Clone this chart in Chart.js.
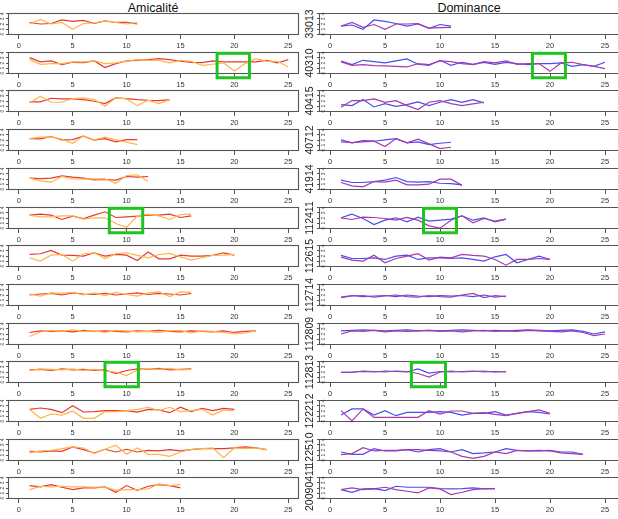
<!DOCTYPE html>
<html>
<head>
<meta charset="utf-8">
<script src="https://cdn.jsdelivr.net/npm/chart.js@4.4.1/dist/chart.umd.min.js"></script>
<style>
  body { margin: 0; background: #fff; }
  #page { position: relative; width: 618px; height: 519px; overflow: hidden; font-family: "Liberation Sans", Arial, sans-serif; }
  #page canvas { position: absolute; }
  .title { position: absolute; top: 1px; font-size: 12.5px; line-height: 14px; color: #111; transform: translateX(-50%); white-space: nowrap; }
  .pid { position: absolute; font-size: 10.5px; line-height: 11px; color: #222; transform: translate(-50%, -50%) rotate(-90deg); white-space: nowrap; }
</style>
</head>
<body>
<div id="page">
  <div class="title" style="left:153px">Amicalité</div>
  <div class="title" style="left:469px">Dominance</div>
</div>
<script>
const participants = ['33013', '40310', '40415', '40712', '41914', '112411', '112615',
  '112714', '112809', '112813', '122212', '122510', '20090411'];
const xTicks = [0, 5, 10, 15, 20, 25];
const yTicks = [0, 1, 2, 3, 4];

// Amicalité, first rater (red) and second rater (orange), one row per participant
const amicaliteRed = [
  [2.3, 2.0, 2.1, 2.8, 2.5, 2.7, 2.1, 2.6, 2.3, 2.3, 2.0],
  [3.06, 2.21, 2.4, 1.68, 2.14, 2.07, 2.4, 1.09, 1.88, 2.4, 2.53, 2.67, 2.86, 2.67, 2.34, 2.14, 2.07, 2.4, 2.21, 2.21, 2.21, 2.21, 2.53, 2.01, 2.67],
  [1.82, 1.82, 2.54, 2.41, 2.41, 2.28, 1.95, 1.49, 2.61, 2.48, 2.28, 2.15, 2.08, 2.28],
  [2.28, 2.22, 2.68, 2.02, 2.09, 2.75, 1.96, 2.28, 1.63, 2.09, 2.09],
  [2.16, 2.09, 2.16, 2.62, 2.36, 2.16, 1.83, 1.9, 1.77, 2.49, 2.36, 2.49],
  [2.56, 2.76, 2.56, 1.71, 2.36, 1.9, 2.56, 3.22, 2.1, 2.23, 2.36, 2.56, 2.56, 2.76, 2.1, 2.43],
  [2.3, 2.44, 3.09, 2.17, 2.11, 1.98, 2.63, 1.98, 2.3, 2.17, 1.12, 2.77, 1.45, 1.45, 2.17, 1.98, 1.98, 2.11, 2.63, 2.17],
  [2.0, 2.2, 2.3, 2.0, 2.4, 2.2, 2.1, 2.3, 2.0, 2.2, 2.4, 2.1, 2.3, 2.2, 2.0, 2.3],
  [2.3, 2.6, 2.5, 2.6, 2.4, 2.7, 2.5, 2.6, 2.5, 2.4, 2.6, 2.5, 2.7, 2.5, 2.4, 2.6, 2.5, 2.4, 2.6, 2.3, 2.5, 2.6],
  [2.4, 2.5, 2.3, 2.6, 2.4, 2.5, 2.3, 2.4, 1.7, 2.3, 2.6, 2.5, 2.7, 2.4, 2.5, 2.6],
  [2.33, 2.59, 2.33, 1.67, 3.05, 1.8, 1.87, 2.07, 2.07, 2.07, 1.8, 2.33, 2.2, 1.67, 2.73, 1.87, 2.53, 2.07, 2.53, 2.33],
  [1.75, 1.61, 1.81, 1.75, 2.6, 2.07, 1.42, 2.14, 1.61, 2.14, 1.61, 1.94, 1.81, 2.07, 1.81, 2.07, 2.27, 2.27, 2.27, 2.4, 2.6, 2.4, 2.07],
  [2.48, 2.21, 2.67, 2.15, 1.69, 2.02, 2.02, 2.21, 1.16, 2.48, 1.55, 2.34, 2.67, 2.48, 2.02]
];
const amicaliteOrange = [
  [2.0, 2.9, 2.0, 2.3, 0.95, 2.1, 2.2, 2.6, 2.3, 2.0, 2.3],
  [2.67, 1.75, 1.88, 1.88, 2.21, 2.21, 2.4, 1.88, 2.01, 2.34, 2.67, 2.53, 2.53, 2.01, 2.53, 2.34, 1.55, 1.75, 2.01, 0.43, 1.88, 2.86, 2.34, 2.34, 1.22],
  [1.62, 2.94, 1.75, 1.75, 2.48, 2.61, 2.28, 0.96, 2.61, 2.41, 1.09, 2.15, 1.49, 2.28],
  [2.28, 2.55, 2.61, 2.15, 1.36, 2.81, 2.02, 2.55, 2.02, 1.56, 1.1],
  [2.16, 1.63, 1.37, 2.49, 2.03, 1.96, 2.03, 2.03, 1.17, 2.69, 2.82, 1.5],
  [2.56, 2.23, 2.23, 2.43, 2.43, 1.77, 2.04, 2.04, 0.92, 0.19, 2.43, 2.76, 2.43, 1.71, 2.69, 2.76],
  [1.65, 0.99, 2.17, 2.3, 0.99, 2.44, 2.63, 1.51, 2.44, 2.63, 2.11, 1.65, 2.3, 2.5, 1.84, 1.19, 1.65, 2.11, 2.17, 2.3],
  [2.2, 1.8, 2.4, 2.3, 2.5, 2.0, 2.4, 1.9, 2.5, 2.1, 1.8, 2.4, 2.6, 1.7, 2.6, 2.5],
  [1.5, 2.4, 2.7, 2.5, 2.8, 2.5, 2.6, 2.3, 2.7, 2.6, 2.4, 2.5, 2.3, 2.6, 2.7, 2.2, 2.6, 2.5, 2.3, 2.0, 2.2, 2.6],
  [2.3, 2.6, 2.5, 2.4, 2.6, 2.3, 2.5, 2.2, 2.0, 1.3, 2.4, 2.6, 2.5, 2.7, 2.4, 2.5],
  [2.33, 0.56, 1.41, 1.21, 2.0, 0.56, 0.56, 1.87, 1.87, 2.07, 2.33, 2.73, 2.07, 2.73, 1.87, 2.07, 2.33, 1.21, 2.2, 2.0],
  [1.42, 1.81, 1.94, 2.27, 2.6, 2.4, 1.29, 2.14, 2.93, 1.15, 2.4, 1.15, 1.15, 0.76, 1.61, 2.14, 2.27, 2.4, 0.5, 2.4, 2.27, 2.4, 2.07],
  [1.69, 2.34, 2.21, 2.34, 2.21, 2.21, 2.15, 2.21, 1.55, 1.69, 1.69, 1.82, 2.8, 2.48, 2.67]
];

// Dominance, first rater (blue) and second rater (purple)
const dominanceBlue = [
  [1.6, 1.8, 0.95, 2.8, 2.5, 2.1, 1.6, 2.0, 1.15, 1.9, 1.6],
  [2.4, 1.68, 2.53, 2.27, 2.01, 2.4, 2.8, 1.75, 1.55, 2.53, 1.55, 2.14, 1.75, 2.14, 1.75, 2.14, 1.88, 1.68, 1.88, 1.88, 2.01, 1.35, 1.68, 1.35, 2.14],
  [1.29, 1.09, 2.28, 0.83, 1.49, 0.96, 1.29, 1.82, 1.09, 1.75, 2.28, 1.75, 2.28, 1.62],
  [2.02, 1.43, 1.89, 1.76, 2.02, 2.28, 1.43, 1.63, 1.1, 1.36, 1.56],
  [1.77, 1.31, 1.31, 1.5, 1.77, 2.29, 1.5, 1.37, 1.5, 1.17, 1.11, 0.84],
  [2.04, 2.76, 1.9, 0.72, 1.57, 2.04, 1.25, 2.17, 1.38, 1.57, 1.77, 2.43, 1.57, 2.04, 1.25, 1.77],
  [2.11, 1.51, 1.51, 1.65, 1.32, 1.98, 2.17, 1.32, 1.65, 1.65, 1.51, 1.65, 1.32, 0.99, 1.84, 2.3, 0.66, 1.32, 1.98, 1.32],
  [1.6, 1.9, 1.7, 1.8, 1.9, 1.7, 2.0, 1.8, 1.7, 1.9, 1.8, 1.9, 1.7, 2.0, 1.6, 1.8],
  [2.6, 2.7, 2.8, 2.7, 2.6, 2.7, 2.8, 2.6, 2.7, 2.6, 2.7, 2.8, 2.7, 2.6, 2.7, 2.6, 2.7, 2.8, 2.7, 2.6, 2.7, 2.8, 2.5, 2.0, 2.4],
  [1.9, 2.0, 2.1, 2.0, 2.2, 2.1, 2.0, 2.6, 1.8, 2.1, 2.0, 2.1, 2.2, 2.0, 2.1, 2.0],
  [1.21, 2.4, 2.4, 1.21, 2.07, 1.08, 1.74, 1.74, 1.74, 1.87, 1.74, 1.21, 1.54, 1.54, 1.87, 1.21, 1.54, 1.87, 1.74, 1.41],
  [1.61, 1.15, 1.15, 2.27, 1.81, 1.81, 2.07, 1.61, 2.07, 2.27, 1.61, 2.07, 1.29, 1.42, 1.61, 2.27, 1.94, 1.81, 1.81, 1.94, 1.61, 1.61, 1.15],
  [1.69, 1.16, 1.82, 1.88, 1.49, 2.34, 2.15, 2.15, 2.15, 1.88, 1.82, 1.88, 2.02, 1.82, 1.88]
];
const dominancePurple = [
  [1.6, 2.3, 1.35, 1.9, 0.95, 2.0, 2.0, 2.1, 1.2, 1.3, 1.35],
  [2.21, 1.55, 1.68, 1.48, 1.42, 1.35, 1.22, 1.88, 1.68, 2.4, 2.27, 1.88, 1.68, 2.27, 2.01, 2.4, 1.75, 1.88, 1.88, 0.36, 2.01, 2.14, 1.68, 1.35, 0.89],
  [0.77, 2.08, 2.08, 2.41, 1.75, 2.08, 1.09, 0.31, 1.75, 2.08, 1.49, 1.09, 1.42, 1.75],
  [1.63, 1.5, 1.63, 1.76, 0.71, 2.28, 1.43, 2.15, 1.23, 0.31, 0.58],
  [1.31, 0.65, 0.45, 1.5, 1.37, 1.77, 0.84, 0.84, 0.98, 1.96, 1.96, 0.75],
  [2.04, 1.71, 2.17, 2.1, 1.9, 1.57, 2.1, 1.57, 0.46, 0.0, 1.57, 2.43, 1.05, 1.9, 1.38, 1.77],
  [1.78, 1.19, 0.99, 2.17, 0.66, 1.51, 1.98, 2.44, 1.19, 1.78, 1.65, 2.3, 2.11, 1.98, 1.32, 0.2, 1.32, 1.32, 1.51, 1.32],
  [1.5, 1.8, 1.9, 1.6, 1.8, 2.0, 1.7, 1.6, 1.9, 1.7, 1.6, 2.0, 2.3, 1.5, 1.9, 1.7],
  [2.0, 2.6, 2.5, 2.7, 2.4, 2.6, 2.5, 2.6, 2.7, 2.5, 2.6, 2.4, 2.6, 2.7, 2.5, 2.6, 2.5, 2.7, 2.6, 2.5, 2.4, 2.6, 2.3, 1.7, 2.0],
  [2.0, 1.9, 2.2, 2.1, 2.0, 2.2, 2.1, 1.7, 1.0, 2.0, 2.2, 2.0, 2.1, 2.2, 2.0, 2.1],
  [2.07, 0.05, 2.4, 0.75, 0.75, 0.75, 0.75, 0.75, 2.07, 1.41, 2.0, 2.0, 1.54, 1.67, 1.34, 1.08, 1.54, 1.87, 2.2, 1.54],
  [1.09, 1.29, 2.47, 1.81, 1.94, 1.94, 2.07, 2.07, 1.94, 1.81, 1.61, 0.76, 0.36, 0.76, 1.61, 1.29, 1.94, 1.81, 1.94, 1.81, 1.42, 1.29, 1.15],
  [1.69, 2.02, 1.69, 1.82, 2.15, 1.69, 1.36, 1.03, 2.02, 1.82, 0.7, 1.16, 1.69, 1.88, 1.88]
];

// highlighted disagreements (green boxes), in data units
const highlightRows = [1, 5, 9];
const highlightAmicX = [[18.4, 21.4], [8.4, 11.5], [8.0, 11.1]];
const highlightDomX = [[18.4, 21.4], [8.5, 11.5], [7.4, 10.5]];
const highlightY = [-0.9, 3.9];

const FONT = '"Liberation Sans", Arial, sans-serif';
const ROW0 = 13, ROWSTEP = 38.7, BOXH = 22, PADTOP = 4, XAXIS_H = 17;
const page = document.getElementById('page');

const toPoints = vals => vals.map((v, i) => ({ x: i + 1, y: v }));

const frame = {
  id: 'frame',
  afterDraw(chart, args, opts) {
    const { ctx, chartArea: a } = chart;
    const x = chart.scales.x, y = chart.scales.y;
    ctx.save();
    ctx.strokeStyle = '#555';
    ctx.lineWidth = 1.1;
    if (opts.inside) {
      // right column: the frame runs off the edge of the figure
      const l = a.left + 0.5, t = a.top + 0.5, b = a.bottom - 0.5;
      ctx.beginPath();
      ctx.moveTo(chart.width, t); ctx.lineTo(l, t); ctx.lineTo(l, b); ctx.lineTo(chart.width, b);
      ctx.stroke();
    } else {
      ctx.strokeRect(a.left + 0.5, a.top + 0.5, a.right - a.left - 1, a.bottom - a.top - 1);
    }

    ctx.fillStyle = '#444';
    ctx.font = '5px ' + FONT;
    ctx.textAlign = 'center';
    ctx.textBaseline = 'middle';
    const lx = opts.inside ? a.left + 4.5 : a.left - 5;
    yTicks.forEach(v => {
      ctx.save();
      ctx.translate(lx, y.getPixelForValue(v));
      ctx.rotate(-Math.PI / 2);
      ctx.fillText(String(v), 0, 0);
      ctx.restore();
    });

    if (opts.box) {
      const x0 = x.getPixelForValue(opts.box[0]), x1 = x.getPixelForValue(opts.box[1]);
      const y0 = y.getPixelForValue(highlightY[1]), y1 = y.getPixelForValue(highlightY[0]);
      ctx.strokeStyle = '#1fc41f';
      ctx.lineWidth = 3;
      ctx.strokeRect(x0, y0, x1 - x0, y1 - y0);
    }
    ctx.restore();
  }
};

function makePanel(k, left) {
  const boxTop = Math.round(ROW0 + ROWSTEP * k);
  const cv = document.createElement('canvas');
  const w = 302;
  const h = PADTOP + BOXH + XAXIS_H;
  cv.width = w; cv.height = h;
  cv.style.width = w + 'px'; cv.style.height = h + 'px';
  cv.style.left = (left ? 0 : 316) + 'px';
  cv.style.top = (boxTop - PADTOP) + 'px';
  page.appendChild(cv);

  const hi = highlightRows.indexOf(k);
  const box = hi < 0 ? null : (left ? highlightAmicX[hi] : highlightDomX[hi]);
  const top = left ? amicaliteOrange[k] : dominancePurple[k];
  const under = left ? amicaliteRed[k] : dominanceBlue[k];
  const cTop = left ? '#ffb448' : '#a83aa8';
  const cUnder = left ? '#e6392f' : '#4b4bf5';
  const yW = left ? 8 : 3;

  new Chart(cv, {
    type: 'line',
    data: {
      datasets: [
        { data: toPoints(top), borderColor: cTop, borderWidth: 1.2, pointRadius: 0, tension: 0, fill: false },
        { data: toPoints(under), borderColor: cUnder, borderWidth: 1.2, pointRadius: 0, tension: 0, fill: false }
      ]
    },
    options: {
      responsive: false,
      animation: false,
      events: [],
      layout: { padding: { top: PADTOP, right: left ? 3 : 2, left: 0, bottom: 0 } },
      plugins: {
        legend: { display: false },
        tooltip: { enabled: false },
        frame: { inside: !left, box: box }
      },
      scales: {
        x: {
          type: 'linear', min: -1, max: 26,
          afterBuildTicks: s => { s.ticks = xTicks.map(v => ({ value: v })); },
          afterFit: s => { s.height = XAXIS_H; },
          grid: { display: true, drawOnChartArea: false, drawTicks: true, tickLength: 4, color: '#555' },
          border: { display: false },
          ticks: { font: { size: 7.5, family: FONT }, color: '#333', padding: 2.5, maxRotation: 0, autoSkip: false }
        },
        y: {
          type: 'linear', min: -0.16, max: 4.16,
          afterBuildTicks: s => { s.ticks = yTicks.map(v => ({ value: v })); },
          afterFit: s => { s.width = yW; },
          grid: { display: true, drawOnChartArea: false, drawTicks: true, tickLength: 2, color: '#555' },
          border: { display: false },
          ticks: { display: false }
        }
      }
    },
    plugins: [frame]
  });

  if (!left) {
    const lab = document.createElement('div');
    lab.className = 'pid';
    lab.textContent = participants[k];
    lab.style.left = '308.5px';
    lab.style.top = (boxTop + BOXH / 2) + 'px';
    page.appendChild(lab);
  }
}

participants.forEach((p, k) => {
  makePanel(k, true);
  makePanel(k, false);
});
</script>
</body>
</html>
